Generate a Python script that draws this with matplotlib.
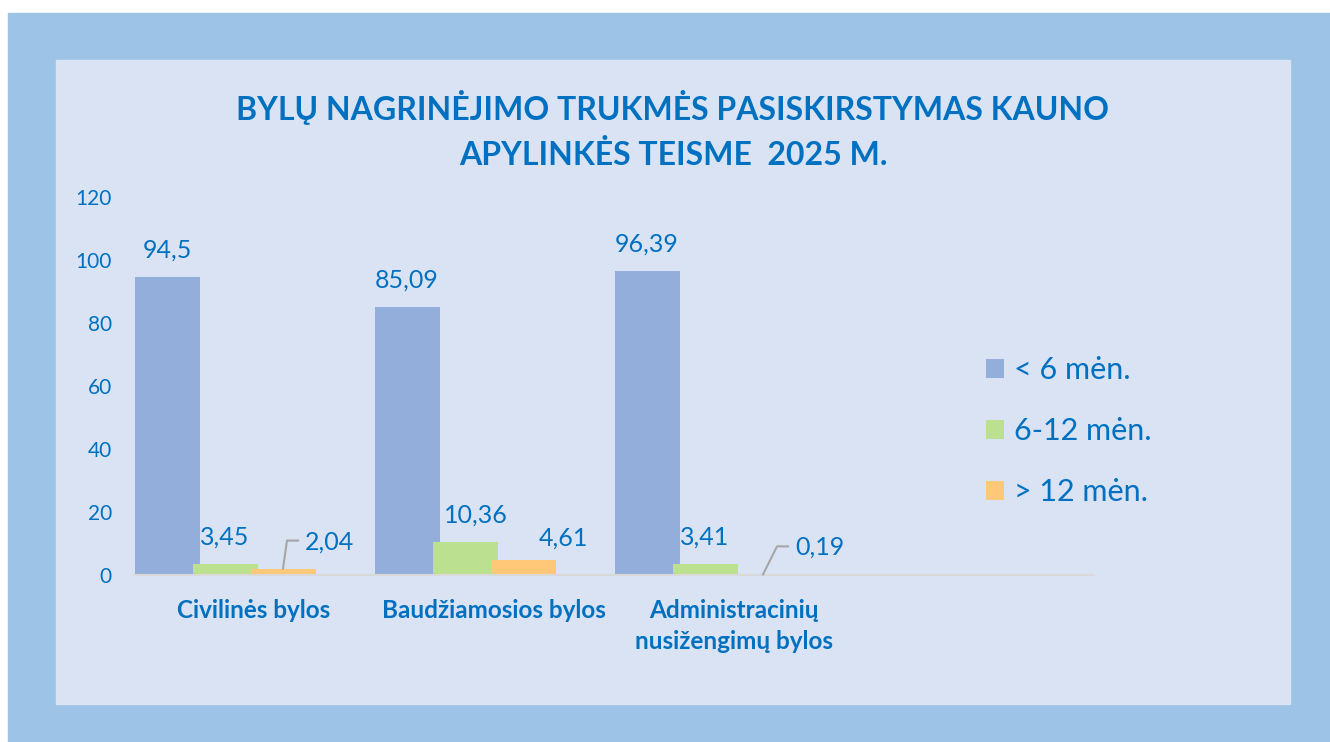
#!/usr/bin/env python
# Bylu nagrinejimo trukme - Kauno apylinkes teismas 2025 m.
import numpy as np
import matplotlib.pyplot as plt
from matplotlib.patches import Rectangle
from matplotlib.lines import Line2D

categories = ['Civilinės bylos', 'Baudžiamosios bylos',
              'Administracinių\nnusižengimų bylos', '']
series_names = ['< 6 mėn.', '6-12 mėn.', '> 12 mėn.']
lt6 = [94.5, 85.09, 96.39, 0]
m6_12 = [3.45, 10.36, 3.41, 0]
gt12 = [2.04, 4.61, 0.19, 0]
yticks = [0, 20, 40, 60, 80, 100, 120]

BLUE_TXT = '#0070C0'
colors = ['#94AEDC', '#BBE08F', '#FFC878']

W, H = 1330, 742
plt.rcParams['font.family'] = ['Lato', 'DejaVu Sans']
fig = plt.figure(figsize=(W / 100, H / 100), dpi=100, facecolor='white')

# frame and panel
fig.patches.append(Rectangle((8 / W, 0), (W - 8) / W, (H - 13) / H,
                             transform=fig.transFigure, color='#9DC3E6', zorder=-2))
fig.patches.append(Rectangle((56 / W, (H - 704) / H), 1234 / W, 644 / H,
                             transform=fig.transFigure, color='#DAE3F3', zorder=-1))

ax = fig.add_axes([134 / W, (H - 575) / H, 960 / W, 378 / H])
ax.set_facecolor('none')
ax.set_xlim(-0.5, 3.5)
ax.set_ylim(0, 120)

x = np.arange(len(categories))
width = 65 / 240
step = 58 / 240
all_vals = [lt6, m6_12, gt12]
for i, (vals, c, name) in enumerate(zip(all_vals, colors, series_names)):
    ax.bar(x + (i - 1.5) * step, vals, width=width, color=c, label=name, zorder=2)

# label offsets in pixels from bar top (dx, dy); leader = (corner dx, end dx) or None
offsets = [
    [(0, 27, None), (0, 27, None), (0, 27, None)],
    [(0, 27, None), (11, 27, None), (0, 27, None)],
    [(47, 26, (4, 15)), (40, 22, None), (57, 27, (14, 25))],
]
fig.canvas.draw()
for i, vals in enumerate(all_vals):
    for j in range(3):
        v = vals[j]
        xc = x[j] + (i - 1.5) * step
        dx, dy, leader = offsets[i][j]
        lab = ('%g' % v).replace('.', ',')
        ax.annotate(lab, (xc, v), xytext=(dx, dy), textcoords='offset pixels',
                    ha='center', va='center', fontsize=18, color=BLUE_TXT)
        if leader:
            px, py = ax.transData.transform((xc, v))
            xs = [px, px + leader[0], px + leader[1]]
            ys = [py, py + 28, py + 28]
            fig.add_artist(Line2D(xs, ys, transform=None, color='#A6A6A6', lw=1.5))

ax.set_yticks(yticks)
ax.tick_params(axis='y', length=0, labelsize=15, labelcolor=BLUE_TXT, pad=16)
ax.set_xticks(x)
ax.set_xticklabels(categories, fontsize=17.5, fontweight='bold', color=BLUE_TXT,
                   linespacing=1.45)
ax.tick_params(axis='x', length=0, pad=17)
for s in ['top', 'right', 'left']:
    ax.spines[s].set_visible(False)
ax.spines['bottom'].set_color('#D9D9D9')
ax.spines['bottom'].set_linewidth(1.5)

fig.text(673 / W, 1 - 130 / H,
         'BYLŲ NAGRINĖJIMO TRUKMĖS PASISKIRSTYMAS KAUNO\nAPYLINKĖS TEISME  2025 M.',
         ha='center', va='center', fontsize=23, fontweight='bold', color=BLUE_TXT,
         linespacing=1.6)

leg = fig.legend(loc='center left', bbox_to_anchor=(986 / W, 1 - 431 / H),
                 frameon=False, fontsize=22, labelcolor=BLUE_TXT,
                 borderpad=0, borderaxespad=0,
                 handlelength=0.6, handleheight=0.6, handletextpad=0.3,
                 labelspacing=1.08)

fig.savefig('out.png', dpi=100)
